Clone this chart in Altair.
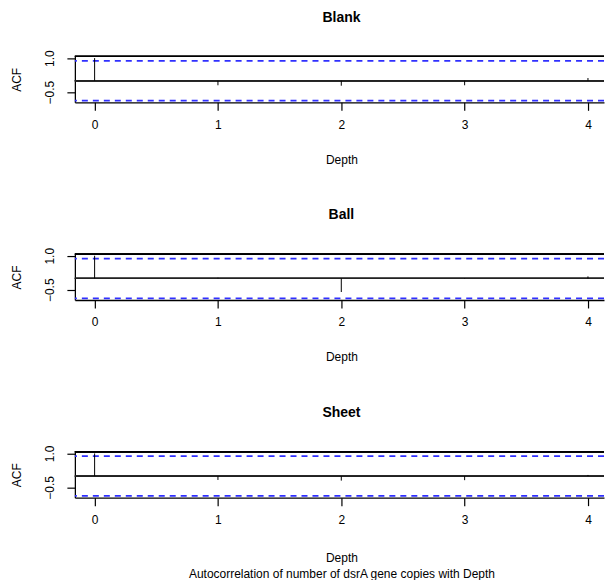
import altair as alt
import pandas as pd

# Sample autocorrelation of dsrA gene copies by depth lag, one series per treatment
lags = [0, 1, 2, 3, 4]
panels = ["Blank", "Ball", "Sheet"]
blank_acf = [1.0, -0.20, -0.22, -0.20, 0.12]
ball_acf = [1.0, 0.03, -0.60, -0.02, 0.09]
sheet_acf = [1.0, -0.17, -0.20, -0.18, 0.05]

# 95% confidence bound for n = 5 observations
conf_limit = 0.877
y_limits = [-0.952, 1.075]
x_limits = [-0.16, 4.13]
y_ticks = [-0.5, 0.0, 0.5, 1.0]
x_ticks = [0, 1, 2, 3, 4]

FONT = "Liberation Sans"
PLOT_W = 530
PLOT_H = 46
BLUE = "#2f2fff"

series = {"Blank": blank_acf, "Ball": ball_acf, "Sheet": sheet_acf}


def acf_panel(name, values, x_title, title_pad):
    df = pd.DataFrame({"lag": lags, "acf": values})
    bounds = pd.DataFrame({"y": [conf_limit, -conf_limit]})

    x = alt.X(
        "lag:Q",
        scale=alt.Scale(domain=x_limits, nice=False, zero=False),
        axis=alt.Axis(
            values=x_ticks,
            format="d",
            title=x_title,
            grid=False,
            domainColor="black",
            domainWidth=1.3,
            tickColor="black",
            tickWidth=1.2,
            tickSize=8,
            labelPadding=9,
            titlePadding=title_pad,
            titleX=267,
            labelFont=FONT,
            labelFontSize=12,
            labelColor="black",
            titleFont=FONT,
            titleFontSize=12,
            titleFontWeight="normal",
            titleColor="black",
            titleLineHeight=16,
        ),
    )
    y = alt.Y(
        "acf:Q",
        scale=alt.Scale(domain=y_limits, nice=False, zero=False),
        axis=alt.Axis(
            values=y_ticks,
            labelExpr="datum.value == 1 || datum.value == -0.5 ? format(datum.value, '.1f') : ''",
            labelAngle=-90,
            labelAlign="center",
            labelBaseline="bottom",
            title="ACF",
            grid=False,
            domainColor="black",
            domainWidth=1.3,
            tickColor="black",
            tickWidth=1.2,
            tickSize=8,
            labelPadding=10,
            titlePadding=20,
            labelFont=FONT,
            labelFontSize=12,
            labelColor="black",
            titleFont=FONT,
            titleFontSize=12,
            titleFontWeight="normal",
            titleColor="black",
        ),
    )

    bars = alt.Chart(df).mark_rule(color="black", strokeWidth=1).encode(
        x=x, y=y, y2=alt.datum(0)
    )
    zero = alt.Chart(df).mark_rule(color="#222222", strokeWidth=1.4).encode(
        y=alt.datum(0)
    )
    top = alt.Chart(df).mark_rule(color="black", strokeWidth=1.3).encode(
        y=alt.datum(y_limits[1])
    )
    ci = alt.Chart(bounds).mark_rule(
        color=BLUE, strokeWidth=1.8, strokeDash=[6, 5]
    ).encode(y="y:Q")

    return alt.layer(zero, ci, top, bars).properties(
        width=PLOT_W,
        height=PLOT_H,
        title=alt.TitleParams(
            name,
            fontSize=14,
            fontWeight="bold",
            font=FONT,
            color="black",
            frame="group",
            anchor="middle",
            offset=25,
            dx=2,
        ),
    )


charts = []
for i, name in enumerate(panels):
    if i == len(panels) - 1:
        xt = ["Depth", "Autocorrelation of number of dsrA gene copies with Depth"]
        pad = 27
    else:
        xt = "Depth"
        pad = 24
    charts.append(acf_panel(name, series[name], xt, pad))

chart = (
    alt.vconcat(*charts, spacing=152, bounds="flush")
    .properties(
        padding={"left": 11, "top": 10, "right": 0, "bottom": 0},
        background="white",
    )
    .configure_view(stroke=None)
)

chart.save("out.html", embed_options={"renderer": "svg", "actions": False})
